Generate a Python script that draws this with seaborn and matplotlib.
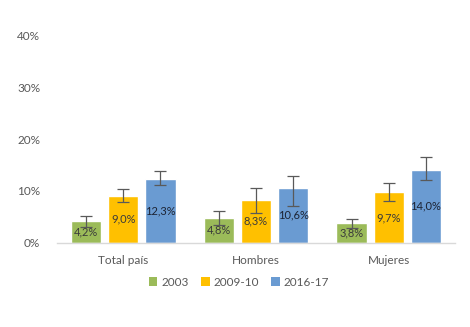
import numpy as np
import pandas as pd
import matplotlib
matplotlib.use("Agg")
import matplotlib.pyplot as plt
import seaborn as sns
from matplotlib.patches import Patch

# ---- data ----
categories = ["Total país", "Hombres", "Mujeres"]
periods = ["2003", "2009-10", "2016-17"]
val_2003 = [4.2, 4.8, 3.8]
val_2009 = [9.0, 8.3, 9.7]
val_2016 = [12.3, 10.6, 14.0]
low_2003 = [3.0, 3.4, 2.8]
high_2003 = [5.1, 6.1, 4.5]
low_2009 = [7.9, 5.8, 8.1]
high_2009 = [10.4, 10.5, 11.6]
low_2016 = [11.2, 7.0, 12.2]
high_2016 = [13.9, 12.8, 16.5]
yticks = [0, 10, 20, 30, 40]
ytick_labels = ["0%", "10%", "20%", "30%", "40%"]

colors = ["#9BBB59", "#FFC000", "#6A9BD2"]
label_colors = ["#3a3a3a", "#3a3a3a", "#1c2333"]

values = [val_2003, val_2009, val_2016]
lows = [low_2003, low_2009, low_2016]
highs = [high_2003, high_2009, high_2016]

rows = []
for p, vals in zip(periods, values):
    for c, v in zip(categories, vals):
        rows.append({"cat": c, "period": p, "value": v})
df = pd.DataFrame(rows)

sns.set_theme(style="white")
plt.rcParams["font.family"] = ["Lato", "DejaVu Sans"]

fig = plt.figure(figsize=(4.7, 3.27), dpi=100)
ax = fig.add_axes([57 / 470, 1 - 242.5 / 327, 398 / 470, (242.5 - 36) / 327])

sns.barplot(data=df, x="cat", y="value", hue="period", order=categories,
            hue_order=periods, palette=colors, width=0.84, gap=0.19,
            errorbar=None, ax=ax, legend=False, saturation=1)

bar_containers = list(ax.containers)
for i, cont in enumerate(bar_containers):
    xs = [b.get_x() + b.get_width() / 2 for b in cont.patches]
    v = np.array(values[i])
    lo = v - np.array(lows[i])
    hi = np.array(highs[i]) - v
    ax.errorbar(xs, v, yerr=[lo, hi], fmt="none", ecolor="#595959",
                elinewidth=0.9, capsize=4, capthick=0.9, zorder=5)
    ax.bar_label(cont, labels=[f"{x:.1f}%".replace(".", ",") for x in values[i]],
                 label_type="center", fontsize=8, color=label_colors[i], zorder=6)

ax.set_ylim(0, 40)
ax.set_xlim(-0.5, 2.5)
ax.set_yticks(yticks)
ax.set_yticklabels(ytick_labels)
ax.set_xlabel("")
ax.set_ylabel("")
ax.tick_params(axis="y", length=0, pad=12, labelsize=8.5, labelcolor="#595959")
ax.tick_params(axis="x", length=0, pad=9, labelsize=8.5, labelcolor="#595959")
for s in ["left", "right", "top"]:
    ax.spines[s].set_visible(False)
ax.spines["bottom"].set_color("#D9D9D9")
ax.spines["bottom"].set_linewidth(1)
ax.grid(False)

handles = [Patch(facecolor=c, edgecolor="none", label=p) for c, p in zip(colors, periods)]
fig.legend(handles=handles, loc="center", bbox_to_anchor=(239 / 470, 1 - 282 / 327),
           ncol=3, frameon=False, fontsize=8.5, handlelength=0.75, handleheight=0.75,
           handletextpad=0.35, columnspacing=1.0, labelcolor="#595959")

fig.savefig("out.png", dpi=100)
